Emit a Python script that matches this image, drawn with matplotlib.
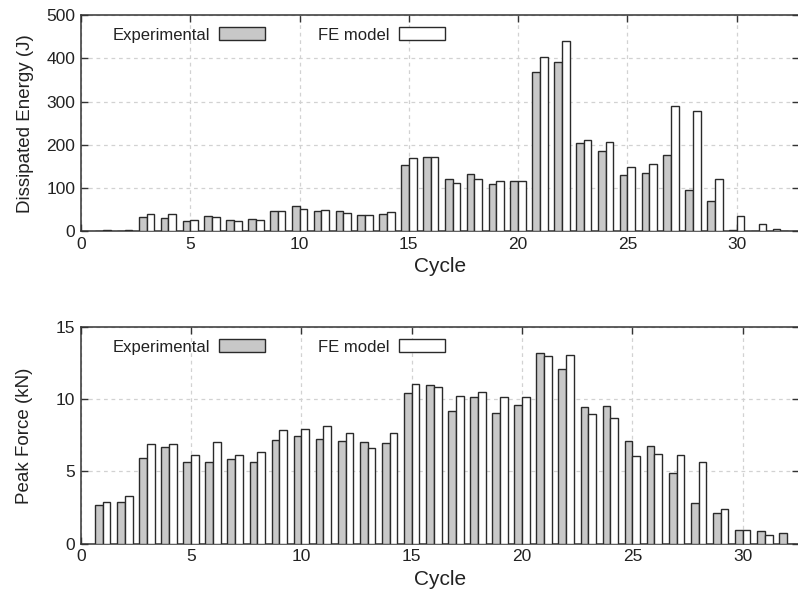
import numpy as np
import matplotlib
matplotlib.use("Agg")
import matplotlib.pyplot as plt

plt.rcParams['font.family'] = ['Liberation Sans', 'DejaVu Sans']

cycles = np.arange(1, 33)

# dissipated energy (J)
energy_exp = [1, 1, 33, 31.5, 23, 34.5, 27, 28.5, 46, 59, 47, 47, 38.5, 39, 153, 172,
              121, 133, 110, 117, 369, 391, 204, 186, 131, 135, 177, 95, 71, 4, 1.5, 5.5]
energy_fe = [3, 4, 39, 41, 27, 32, 24, 25, 48, 52, 49, 43, 37, 44, 170, 171,
             112, 121, 117, 115.5, 402, 440, 211, 206, 148, 155, 289, 279, 121, 35, 17.5, 0.5]

# peak force (kN)
force_exp = [2.7, 2.89, 5.96, 6.67, 5.68, 5.68, 5.84, 5.63, 7.16, 7.46, 7.23, 7.11, 7.07, 6.95, 10.44, 10.97,
             9.21, 10.16, 9.05, 9.58, 13.2, 12.12, 9.47, 9.51, 7.11, 6.77, 4.92, 2.82, 2.1, 0.97, 0.88, 0.72]
force_fe = [2.89, 3.28, 6.88, 6.9, 6.12, 7.07, 6.12, 6.33, 7.85, 7.97, 8.18, 7.69, 6.6, 7.67, 11.02, 10.88,
            10.25, 10.53, 10.18, 10.14, 12.96, 13.09, 8.96, 8.68, 6.05, 6.21, 6.12, 5.68, 2.4, 0.92, 0.6, 0.0]

xticks = [0, 5, 10, 15, 20, 25, 30]

fig = plt.figure(figsize=(7.98, 6.02), dpi=100)
ax1 = fig.add_axes([81/798, 1 - 231.3/602, 718/798, 216.3/602])
ax2 = fig.add_axes([80.7/798, 1 - 543.7/602, 718.3/798, 216.7/602])

w = 0.35
grey = '#c8c8c8'
edge = '#2a2a2a'
txt = '#222222'

def draw(ax, exp, fe, ylim, yticks, ylabel, xmax):
	"grey bar left of the cycle, white bar right of it"
	ax.bar(cycles - w, exp, width=w, align='edge', color=grey, edgecolor=edge, lw=1.0, label='Experimental', zorder=3)
	ax.bar(cycles, fe, width=w, align='edge', color='white', edgecolor=edge, lw=1.0, label='FE model', zorder=3)
	ax.set_xlim(0, xmax); ax.set_ylim(*ylim)
	ax.set_xticks(xticks); ax.set_yticks(yticks)
	ax.tick_params(direction='in', length=5, width=1, top=True, right=True,
				   labelsize=12.5, labelcolor=txt, color='#333333', pad=4)
	ax.grid(True, ls=(0, (3, 3)), color='#d2d2d2', lw=0.9, zorder=0)
	for s in ax.spines.values():
		s.set_linewidth(1.1); s.set_color('#333333')
	ax.set_xlabel('Cycle', fontsize=15, color=txt, labelpad=4)
	ax.set_ylabel(ylabel, fontsize=13.5, color=txt)
	ax.yaxis.set_label_coords(-0.066, 0.5)
	ax.legend(loc='upper left', bbox_to_anchor=(0.023, 1.012), ncol=2, frameon=False,
			  markerfirst=False, fontsize=12, handlelength=2.75, handleheight=0.8,
			  handletextpad=0.55, columnspacing=3.2, labelcolor=txt)

draw(ax1, energy_exp, energy_fe, (0, 500), [0, 100, 200, 300, 400, 500], 'Dissipated Energy (J)', 32.85)
draw(ax2, force_exp, force_fe, (0, 15), [0, 5, 10, 15], 'Peak Force (kN)', 32.55)

fig.savefig('out.png', dpi=100)
